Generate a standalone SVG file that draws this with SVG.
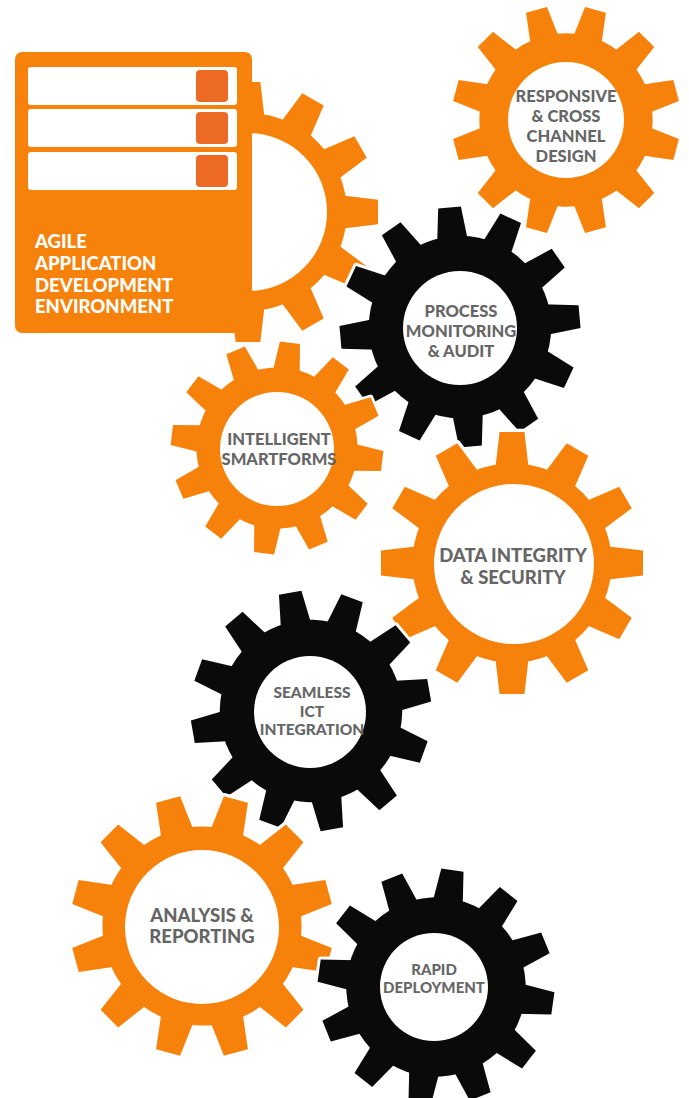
<svg xmlns="http://www.w3.org/2000/svg" xmlns:xlink="http://www.w3.org/1999/xlink" width="689" height="1098" viewBox="0 0 689 1098">
<style>
.or{fill:#F7820B}
.bk{fill:#0A0A0A}
.halo{fill:#FFFFFF;stroke:#FFFFFF;stroke-width:5;stroke-linejoin:round}
.hole{fill:#FFFFFF}
.lbl{font-family:Lato,"Liberation Sans",sans-serif;font-weight:900;fill:#666666;text-anchor:middle}
.agile{font-family:Lato,"Liberation Sans",sans-serif;font-weight:900;fill:#FFFFFF;font-size:18.5px}
.bar{fill:#FFFFFF}
.sq{fill:#EC6A23}
</style>
<defs>
<polygon id="tooth" points="-13,-70 13,-70 9.5,-100 -9.5,-100"/>
<g id="gear">
<circle r="76"/>
<use xlink:href="#tooth" href="#tooth"/>
<use xlink:href="#tooth" href="#tooth" transform="rotate(30)"/>
<use xlink:href="#tooth" href="#tooth" transform="rotate(60)"/>
<use xlink:href="#tooth" href="#tooth" transform="rotate(90)"/>
<use xlink:href="#tooth" href="#tooth" transform="rotate(120)"/>
<use xlink:href="#tooth" href="#tooth" transform="rotate(150)"/>
<use xlink:href="#tooth" href="#tooth" transform="rotate(180)"/>
<use xlink:href="#tooth" href="#tooth" transform="rotate(210)"/>
<use xlink:href="#tooth" href="#tooth" transform="rotate(240)"/>
<use xlink:href="#tooth" href="#tooth" transform="rotate(270)"/>
<use xlink:href="#tooth" href="#tooth" transform="rotate(300)"/>
<use xlink:href="#tooth" href="#tooth" transform="rotate(330)"/>
</g>
</defs>
<rect width="689" height="1098" fill="#FFFFFF"/>

<g id="agile">
<use xlink:href="#gear" href="#gear" class="or" transform="translate(248,212) scale(1.3)"/>
<circle class="hole" cx="248" cy="212" r="79"/>
<rect class="or" x="15" y="52" width="237" height="281" rx="7"/>
<rect class="bar" x="28" y="67" width="209" height="38" rx="3"/>
<rect class="bar" x="28" y="109" width="209" height="38" rx="3"/>
<rect class="bar" x="28" y="152" width="209" height="38" rx="3"/>
<rect class="sq" x="196" y="70" width="32" height="32" rx="4"/>
<rect class="sq" x="196" y="112" width="32" height="32" rx="4"/>
<rect class="sq" x="196" y="155" width="32" height="32" rx="4"/>
<text class="agile" x="35" y="248">AGILE</text>
<text class="agile" x="35" y="270">APPLICATION</text>
<text class="agile" x="35" y="292">DEVELOPMENT</text>
<text class="agile" x="35" y="313">ENVIRONMENT</text>
</g>

<g id="responsive">
<use xlink:href="#gear" href="#gear" class="halo" transform="translate(566,120) rotate(15) scale(1.14)"/>
<use xlink:href="#gear" href="#gear" class="or" transform="translate(566,120) rotate(15) scale(1.14)"/>
<circle class="hole" cx="566" cy="120" r="58"/>
<text class="lbl" font-size="16.5" x="566" y="102">RESPONSIVE</text>
<text class="lbl" font-size="16.5" x="566" y="122">&amp; CROSS</text>
<text class="lbl" font-size="16.5" x="566" y="142">CHANNEL</text>
<text class="lbl" font-size="16.5" x="566" y="162">DESIGN</text>
</g>

<g id="process">
<use xlink:href="#gear" href="#gear" class="halo" transform="translate(460,327) rotate(-5) scale(1.2)"/>
<use xlink:href="#gear" href="#gear" class="bk" transform="translate(460,327) rotate(-5) scale(1.2)"/>
<circle class="hole" cx="460" cy="328" r="57"/>
<text class="lbl" font-size="16.5" x="461" y="317">PROCESS</text>
<text class="lbl" font-size="16.5" x="461" y="337">MONITORING</text>
<text class="lbl" font-size="16.5" x="461" y="357">&amp; AUDIT</text>
</g>

<g id="smartforms">
<use xlink:href="#gear" href="#gear" class="halo" transform="translate(277,448) rotate(7) scale(1.06)"/>
<use xlink:href="#gear" href="#gear" class="or" transform="translate(277,448) rotate(7) scale(1.06)"/>
<circle class="hole" cx="277" cy="449" r="57"/>
<text class="lbl" font-size="16.5" x="279" y="445">INTELLIGENT</text>
<text class="lbl" font-size="16.5" x="279" y="465">SMARTFORMS</text>
</g>

<g id="dataintegrity">
<use xlink:href="#gear" href="#gear" class="halo" transform="translate(512,563) scale(1.31)"/>
<use xlink:href="#gear" href="#gear" class="or" transform="translate(512,563) scale(1.31)"/>
<circle class="hole" cx="514" cy="564" r="80"/>
<text class="lbl" font-size="18.5" x="513" y="562">DATA INTEGRITY</text>
<text class="lbl" font-size="18.5" x="513" y="584">&amp; SECURITY</text>
</g>

<g id="seamless">
<use xlink:href="#gear" href="#gear" class="halo" transform="translate(311,711) rotate(-10) scale(1.2)"/>
<use xlink:href="#gear" href="#gear" class="bk" transform="translate(311,711) rotate(-10) scale(1.2)"/>
<circle class="hole" cx="310" cy="712" r="56"/>
<text class="lbl" font-size="15.5" x="312" y="698">SEAMLESS</text>
<text class="lbl" font-size="15.5" x="312" y="717">ICT</text>
<text class="lbl" font-size="15.5" x="312" y="735">INTEGRATION</text>
</g>

<g id="analysis">
<use xlink:href="#gear" href="#gear" class="halo" transform="translate(202,926) rotate(15) scale(1.31)"/>
<use xlink:href="#gear" href="#gear" class="or" transform="translate(202,926) rotate(15) scale(1.31)"/>
<circle class="hole" cx="202" cy="927" r="77"/>
<text class="lbl" font-size="18.5" x="202" y="922">ANALYSIS &amp;</text>
<text class="lbl" font-size="18.5" x="202" y="943">REPORTING</text>
</g>

<g id="rapid">
<use xlink:href="#gear" href="#gear" class="halo" transform="translate(436,987) rotate(8) scale(1.18)"/>
<use xlink:href="#gear" href="#gear" class="bk" transform="translate(436,987) rotate(8) scale(1.18)"/>
<circle class="hole" cx="434" cy="987" r="54"/>
<text class="lbl" font-size="15" x="434" y="975">RAPID</text>
<text class="lbl" font-size="15" x="434" y="993">DEPLOYMENT</text>
</g>

<g id="connectors"/>
</svg>
